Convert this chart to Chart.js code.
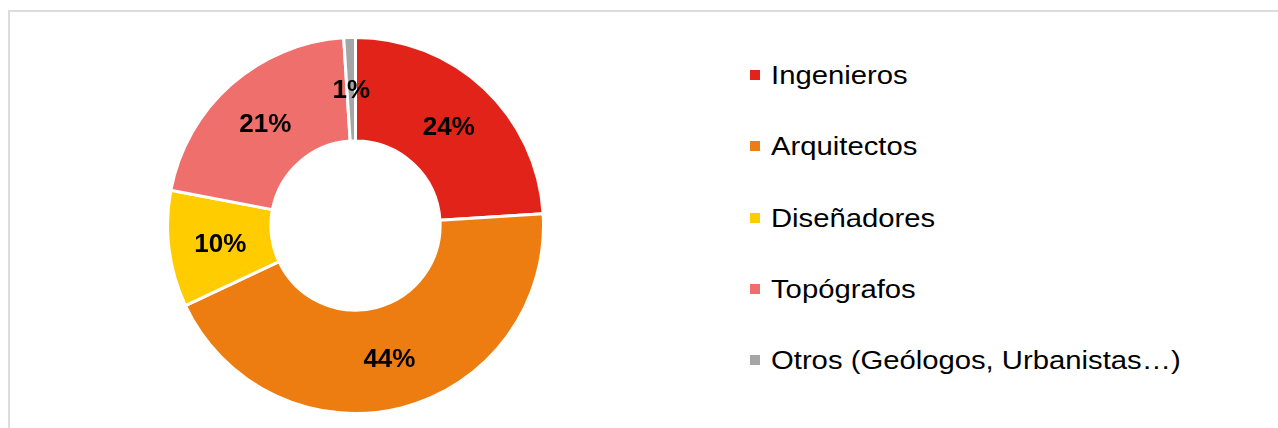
<!DOCTYPE html>
<html>
<head>
<meta charset="utf-8">
<script src="https://cdn.jsdelivr.net/npm/chart.js@4/dist/chart.umd.min.js"></script>
<style>
  body { margin: 0; background: #fff; width: 1278px; height: 428px; overflow: hidden; position: relative; font-family: "Liberation Sans", Arial, sans-serif; }
  #frame { position: absolute; left: 8px; top: 10px; width: 1300px; height: 460px; border: 2px solid #dcdcdc; box-sizing: border-box; }
  #wrap { position: absolute; left: 166px; top: 36px; width: 379px; height: 379px; }
  #legend { position: absolute; left: 750px; top: 0; }
  .item { position: absolute; left: 0; white-space: nowrap; font-size: 25px; color: #000; line-height: 30px; }
  .item .box { display: inline-block; width: 10px; height: 10px; margin-right: 11px; vertical-align: 4px; }
  .item .txt { display: inline-block; transform: scaleX(1.17); transform-origin: left center; }
</style>
</head>
<body>
<div id="frame"></div>
<div id="wrap"><canvas id="pie"></canvas></div>
<div id="legend"></div>
<script>
const categories = ['Ingenieros', 'Arquitectos', 'Diseñadores', 'Topógrafos', 'Otros (Geólogos, Urbanistas…)'];
const shares = [24, 44, 10, 21, 1];
const colors = ['#E2231A', '#EE7D11', '#FFCC00', '#EF6F6C', '#A5A5A5'];

// percentage labels inside each slice
const sliceLabels = {
  id: 'sliceLabels',
  afterDatasetsDraw(chart) {
    const ctx = chart.ctx;
    const meta = chart.getDatasetMeta(0);
    ctx.save();
    ctx.font = 'bold 26px "Liberation Sans", Arial, sans-serif';
    ctx.fillStyle = '#000';
    ctx.textAlign = 'center';
    ctx.textBaseline = 'middle';
    meta.data.forEach((arc, i) => {
      const p = arc.tooltipPosition();
      ctx.fillText(shares[i] + '%', p.x, p.y + 2);
    });
    ctx.restore();
  }
};

new Chart(document.getElementById('pie').getContext('2d'), {
  type: 'doughnut',
  data: {
    labels: categories,
    datasets: [{
      data: shares,
      backgroundColor: colors,
      borderColor: '#fff',
      borderWidth: 3
    }]
  },
  options: {
    responsive: true,
    maintainAspectRatio: false,
    animation: false,
    cutout: '45%',
    layout: { padding: 0 },
    plugins: {
      legend: { display: false },
      tooltip: { enabled: false }
    }
  },
  plugins: [sliceLabels]
});

// legend on the right
const legendDiv = document.getElementById('legend');
categories.forEach((name, i) => {
  const row = document.createElement('div');
  row.className = 'item';
  row.style.top = (60 + i * 71.3) + 'px';
  row.innerHTML = `<span class="box" style="background:${colors[i]}"></span><span class="txt">${name}</span>`;
  legendDiv.appendChild(row);
});
</script>
</body>
</html>
